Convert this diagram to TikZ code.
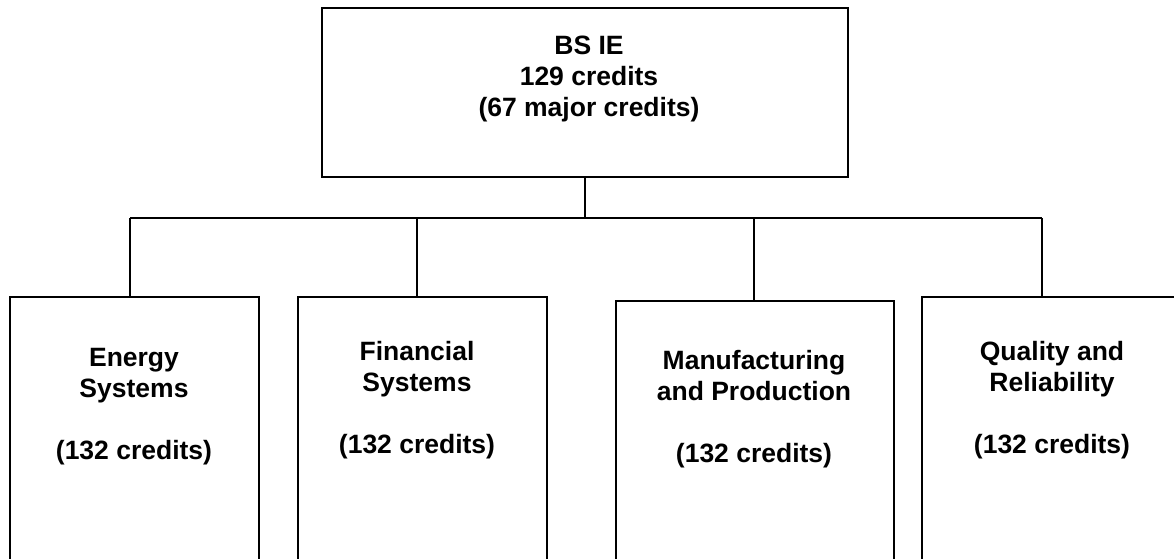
\documentclass[tikz,border=0pt]{standalone}
\usepackage{fontspec}
\setmainfont{Liberation Sans}
\begin{document}
\begin{tikzpicture}[x=1pt,y=-1pt,
  box/.style={draw=black, line width=1.5pt, fill=white, inner sep=0pt},
  lbl/.style={align=center, inner sep=0pt, font=\fontsize{26.5}{31}\selectfont\bfseries},
  conn/.style={draw=black, line width=1.5pt}]
\useasboundingbox (0,0) rectangle (1174,558);
\clip (0,0) rectangle (1174,558);
% boxes
\node[box, minimum width=526pt, minimum height=169pt] (top) at (585,92.5) {};
\node[box, minimum width=249pt, minimum height=278pt] (energy) at (134.5,436) {};
\node[box, minimum width=249pt, minimum height=278pt] (fin) at (422.5,436) {};
\node[box, minimum width=278pt, minimum height=274pt] (man) at (755,438) {};
\node[box, minimum width=262pt, minimum height=278pt] (qual) at (1053,436) {};
% texts
\node[lbl] (toptxt) at (589,79) {BS IE\\129 credits\\(67 major credits)};
\node[lbl] (etxt) at (134,406.5) {Energy\\Systems\\\mbox{}\\(132 credits)};
\node[lbl] (ftxt) at (417,400) {Financial\\Systems\\\mbox{}\\(132 credits)};
\node[lbl] (mtxt) at (754,409.5) {Manufacturing\\and Production\\\mbox{}\\(132 credits)};
\node[lbl] (qtxt) at (1052,400) {Quality and\\Reliability\\\mbox{}\\(132 credits)};
% connectors
\coordinate (bus) at (585,218);
\coordinate (j1) at (130,218);
\coordinate (j2) at (417,218);
\coordinate (j3) at (754,218);
\coordinate (j4) at (1042,218);
\draw[conn] (top.south) -- (bus);
\draw[conn] (j1) -- (j4);
\draw[conn] (j1) -- (j1 |- energy.north);
\draw[conn] (j2) -- (j2 |- fin.north);
\draw[conn] (j3) -- (j3 |- man.north);
\draw[conn] (j4) -- (j4 |- qual.north);
\end{tikzpicture}
\end{document}
